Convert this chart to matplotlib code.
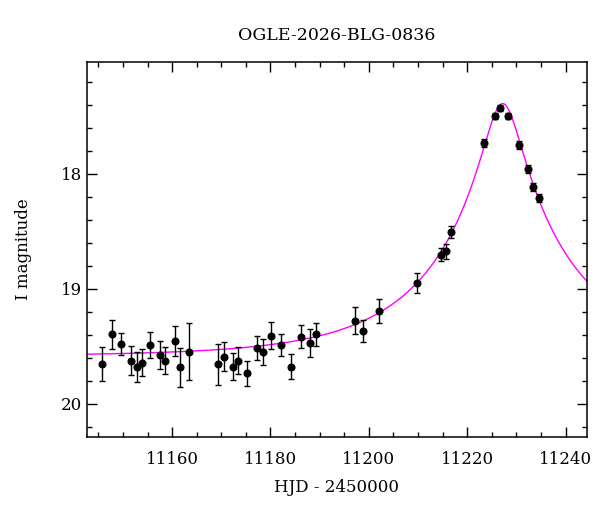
import matplotlib
matplotlib.use('Agg')
import matplotlib.pyplot as plt
import numpy as np
from matplotlib.ticker import MultipleLocator

# photometry (HJD - 2450000, I mag, error)
hjd = [11145.7, 11147.8, 11149.6, 11151.6, 11152.8, 11153.8, 11155.6, 11157.5,
       11158.6, 11160.5, 11161.6, 11163.4, 11169.4, 11170.6, 11172.3, 11173.4,
       11175.3, 11177.3, 11178.4, 11180.2, 11182.1, 11184.2, 11186.2, 11188.0,
       11189.2, 11197.2, 11198.9, 11202.0, 11209.7, 11214.6, 11215.6, 11216.6,
       11223.5, 11225.6, 11226.7, 11228.3, 11230.5, 11232.3, 11233.4, 11234.5]
mag = [19.652, 19.394, 19.478, 19.623, 19.681, 19.640, 19.484, 19.574,
       19.623, 19.452, 19.681, 19.545, 19.655, 19.588, 19.675, 19.623,
       19.733, 19.516, 19.548, 19.406, 19.487, 19.675, 19.414, 19.472,
       19.394, 19.275, 19.365, 19.191, 18.951, 18.701, 18.670, 18.507,
       17.733, 17.496, 17.423, 17.496, 17.748, 17.957, 18.113, 18.209]
err = [0.146, 0.125, 0.094, 0.123, 0.130, 0.120, 0.113, 0.120,
       0.116, 0.133, 0.171, 0.248, 0.178, 0.123, 0.119, 0.117,
       0.110, 0.103, 0.109, 0.119, 0.097, 0.111, 0.097, 0.123,
       0.100, 0.120, 0.096, 0.104, 0.088, 0.055, 0.065, 0.052,
       0.035, 0.025, 0.026, 0.022, 0.035, 0.035, 0.035, 0.035]

# point-lens model parameters
t0 = 11227.2
tE = 28.0
u0 = 0.133
I0 = 19.585

plt.rcParams['font.family'] = ['DejaVu Serif']
plt.rcParams['mathtext.fontset'] = 'dejavuserif'

fig = plt.figure(figsize=(6, 5.12), dpi=100)
ax = fig.add_axes([0.145, 0.1465, 0.833, 0.7325])

t = np.linspace(11140, 11250, 1000)
u = np.sqrt(u0**2 + ((t - t0) / tE)**2)
A = (u**2 + 2) / (u * np.sqrt(u**2 + 4))
ax.plot(t, I0 - 2.5 * np.log10(A), color='magenta', lw=1.0, zorder=1)

ax.errorbar(hjd, mag, yerr=err, fmt='o', color='black', ms=4.8,
            ecolor='black', elinewidth=1.0, capsize=2.5, capthick=1.0, zorder=2)

ax.set_xlim(11142.7, 11244.3)
ax.set_ylim(20.287, 17.026)
ax.xaxis.set_major_locator(MultipleLocator(20))
ax.xaxis.set_minor_locator(MultipleLocator(5))
ax.yaxis.set_major_locator(MultipleLocator(1))
ax.yaxis.set_minor_locator(MultipleLocator(0.2))
ax.tick_params(which='both', direction='in', top=True, right=True, labelsize=12)
ax.tick_params(which='major', length=7, width=1)
ax.tick_params(which='minor', length=3.5, width=1)
ax.tick_params(axis='x', pad=10)
for s in ax.spines.values():
    s.set_linewidth(1.1)

ax.set_xlabel('HJD - 2450000', fontsize=12, labelpad=8)
ax.set_ylabel('I magnitude', fontsize=12, labelpad=21)
ax.set_title('OGLE-2026-BLG-0836', fontsize=12.5, pad=16)

fig.savefig('out.png', dpi=100)
